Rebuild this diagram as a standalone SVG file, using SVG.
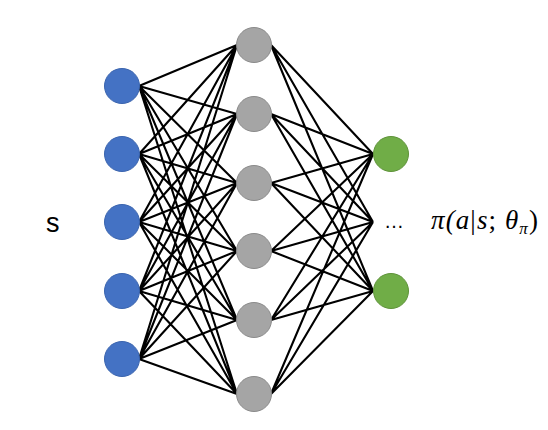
<svg xmlns="http://www.w3.org/2000/svg" width="548" height="430" viewBox="0 0 548 430">
<style>
.e{stroke:#000;stroke-width:2.1;fill:none}
.in{fill:#4472C4;stroke:#3A64AE;stroke-width:1}
.hid{fill:#A5A5A5;stroke:#8A8A8A;stroke-width:1}
.out{fill:#70AD47;stroke:#5E9239;stroke-width:1}
.lbl{font-family:"Liberation Sans",Arial,sans-serif;fill:#000}
.math{font-family:"Liberation Serif","Times New Roman",serif;font-style:italic;fill:#000}
</style>
<rect width="548" height="430" fill="#fff"/>
<g id="connectors">
<path class="e" d="M139 86L237 45M139 86L237 114M139 86L237 183M139 86L237 251M139 86L237 320M139 86L237 394
M139 154L237 45M139 154L237 114M139 154L237 183M139 154L237 251M139 154L237 320M139 154L237 394
M139 222L237 45M139 222L237 114M139 222L237 183M139 222L237 251M139 222L237 320M139 222L237 394
M139 291L237 45M139 291L237 114M139 291L237 183M139 291L237 251M139 291L237 320M139 291L237 394
M139 359L237 45M139 359L237 114M139 359L237 183M139 359L237 251M139 359L237 320M139 359L237 394"/>
<path class="e" d="M271 45L373 154M271 45L373 222M271 45L373 291
M271 114L373 154M271 114L373 222M271 114L373 291
M271 183L373 154M271 183L373 222M271 183L373 291
M271 251L373 154M271 251L373 222M271 251L373 291
M271 320L373 154M271 320L373 222M271 320L373 291
M271 394L373 154M271 394L373 222M271 394L373 291"/>
</g>
<g id="in1"><circle class="in" cx="122" cy="86" r="17.5"/></g>
<g id="in2"><circle class="in" cx="122" cy="154" r="17.5"/></g>
<g id="in3"><circle class="in" cx="122" cy="222" r="17.5"/></g>
<g id="in4"><circle class="in" cx="122" cy="291" r="17.5"/></g>
<g id="in5"><circle class="in" cx="122" cy="359" r="17.5"/></g>
<g id="h1"><circle class="hid" cx="254" cy="45" r="17.5"/></g>
<g id="h2"><circle class="hid" cx="254" cy="114" r="17.5"/></g>
<g id="h3"><circle class="hid" cx="254" cy="183" r="17.5"/></g>
<g id="h4"><circle class="hid" cx="254" cy="251" r="17.5"/></g>
<g id="h5"><circle class="hid" cx="254" cy="320" r="17.5"/></g>
<g id="h6"><circle class="hid" cx="254" cy="394" r="17.5"/></g>
<g id="o1"><circle class="out" cx="391" cy="154" r="17.5"/></g>
<g id="o2"><circle class="out" cx="391" cy="291" r="17.5"/></g>
<g id="dots"><text class="lbl" x="394" y="228" font-size="20" text-anchor="middle">…</text></g>
<g id="s-label"><text class="lbl" x="46" y="232" font-size="27">s</text></g>
<g id="pi-label"><text class="math" x="431" y="229" font-size="27" textLength="107" lengthAdjust="spacing">π(<tspan>a</tspan><tspan font-style="normal">|</tspan>s<tspan font-style="normal">;</tspan> θ<tspan font-size="17" dy="5">π</tspan><tspan font-style="normal" dy="-5">)</tspan></text></g>
</svg>
